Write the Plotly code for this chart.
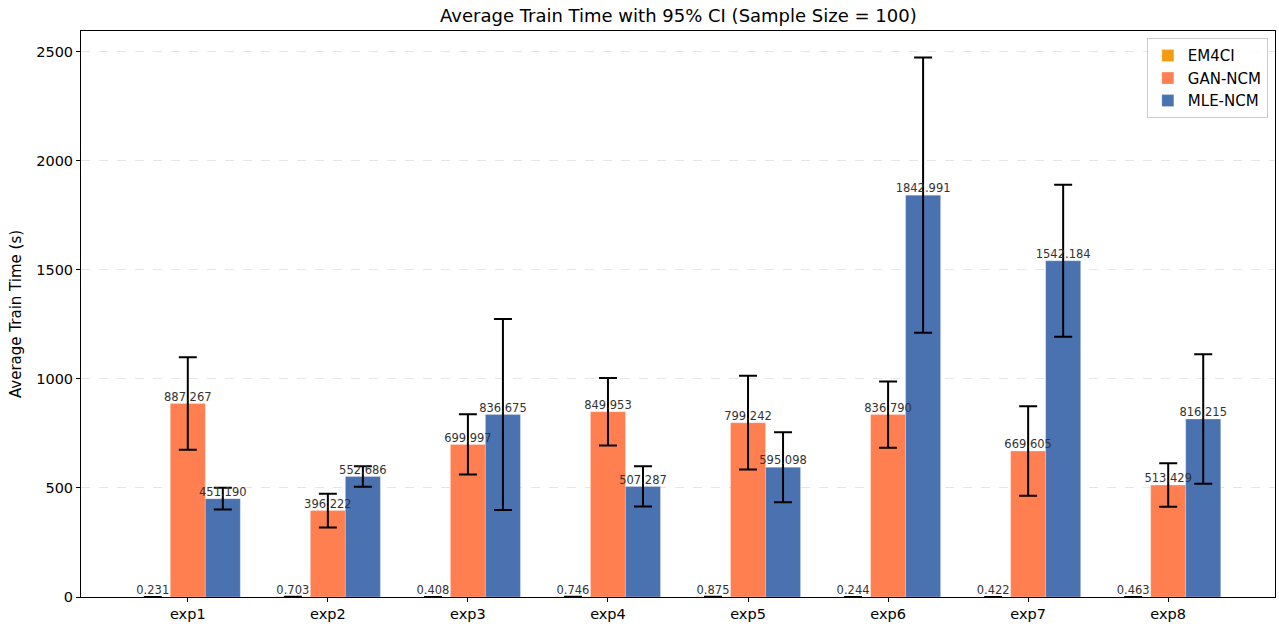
import plotly.graph_objects as go

experiments = ["exp1", "exp2", "exp3", "exp4", "exp5", "exp6", "exp7", "exp8"]
em4ci_mean = [0.231, 0.703, 0.408, 0.746, 0.875, 0.244, 0.422, 0.463]
em4ci_ci = [0.02, 0.05, 0.03, 0.05, 0.06, 0.02, 0.03, 0.03]
gan_mean = [887.267, 396.222, 699.997, 849.953, 799.242, 836.790, 669.605, 513.429]
gan_ci = [212, 77, 138, 155, 215, 152, 205, 100]
mle_mean = [451.190, 552.686, 836.675, 507.287, 595.098, 1842.991, 1542.184, 816.215]
mle_ci = [50, 47, 438, 92, 160, 631, 349, 297]

series = [
    ("EM4CI", em4ci_mean, em4ci_ci, "#F39C12", -0.25),
    ("GAN-NCM", gan_mean, gan_ci, "#FF7F50", 0.0),
    ("MLE-NCM", mle_mean, mle_ci, "#4A72B0", 0.25),
]
BAR_W = 0.25
idx = list(range(len(experiments)))

fig = go.Figure()
for name, vals, ci, color, off in series:
    fig.add_trace(go.Bar(
        name=name,
        x=[i + off for i in idx],
        y=vals,
        width=BAR_W,
        marker=dict(color=color, line=dict(width=0.5, color="rgba(255,255,255,0.5)")),
        error_y=dict(type="data", array=ci, visible=True, color="black",
                     thickness=2, width=9),
    ))
for name, vals, ci, color, off in series:
    fig.add_trace(go.Scatter(
        x=[i + off for i in idx],
        y=vals,
        mode="text",
        text=[f"{v:.3f}" for v in vals],
        textposition="top center",
        textfont=dict(family="DejaVu Sans", size=11.5, color="#333333"),
        showlegend=False,
        hoverinfo="skip",
        cliponaxis=False,
    ))

fig.update_layout(
    width=1279, height=626,
    paper_bgcolor="white", plot_bgcolor="white",
    barmode="overlay",
    margin=dict(l=81, r=4, t=31, b=29),
    font=dict(family="DejaVu Sans", size=14.5, color="black"),
    title=dict(text="Average Train Time with 95% CI (Sample Size = 100)",
               x=0.5304, xanchor="center", y=1 - 15.5 / 626, yanchor="middle",
               font=dict(size=18)),
    legend=dict(x=0.994, y=0.987, xanchor="right", yanchor="top",
                bgcolor="rgba(255,255,255,0.8)", bordercolor="#CCCCCC",
                borderwidth=1, font=dict(size=15), tracegroupgap=0),
    showlegend=True,
)
fig.update_xaxes(
    range=[-0.7625, 7.7625], tickvals=idx, ticktext=experiments,
    showline=True, linecolor="black", linewidth=1,
    mirror=True, ticks="outside", ticklen=4, tickcolor="black",
    showgrid=False, zeroline=False, tickfont=dict(size=14.5),
)
fig.update_yaxes(
    range=[0, 2596], tickvals=[0, 500, 1000, 1500, 2000, 2500],
    showline=True, linecolor="black", linewidth=1, mirror=True,
    ticks="outside", ticklen=4, tickcolor="black",
    showgrid=True, gridcolor="#E5E5E5", griddash="dash", gridwidth=1,
    zeroline=False, tickfont=dict(size=14.5),
    title=dict(text="Average Train Time (s)", font=dict(size=15), standoff=10),
)
fig.write_html("out.html", config={"displayModeBar": False},
               post_script="document.body.style.margin='0';")
